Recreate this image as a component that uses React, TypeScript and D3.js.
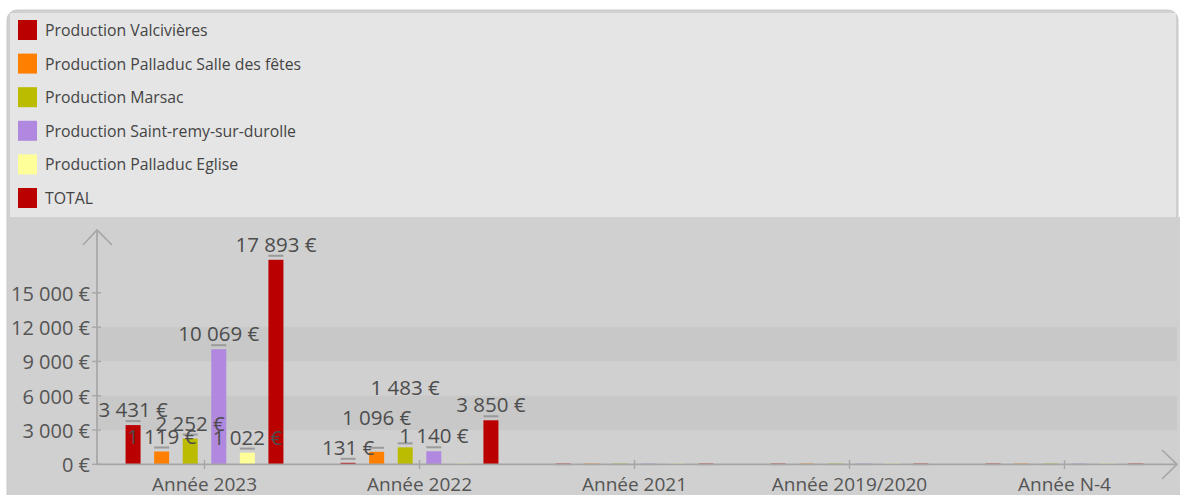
import React from "react";
import * as d3 from "d3";

const categories = ["Année 2023", "Année 2022", "Année 2021", "Année 2019/2020", "Année N-4"];
const seriesNames = [
  "Production Valcivières",
  "Production Palladuc Salle des fêtes",
  "Production Marsac",
  "Production Saint-remy-sur-durolle",
  "Production Palladuc Eglise",
  "TOTAL",
];
const valcivieres = [3431, 131, 0, 0, 0];
const palladucSalle = [1119, 1096, 0, 0, 0];
const marsac = [2252, 1483, 0, 0, 0];
const saintRemy = [10069, 1140, 0, 0, 0];
const palladucEglise = [1022, 0, 0, 0, 0];
const total = [17893, 3850, 0, 0, 0];
const yTicks = [0, 3000, 6000, 9000, 12000, 15000];
const yMax = 20500;
const palette = ["#bb0000", "#ff8000", "#bbbb00", "#b088e0", "#ffff99", "#bb0000"];

const seriesValues = [valcivieres, palladucSalle, marsac, saintRemy, palladucEglise, total];

const W = 1180;
const H = 495;
const FONT = "'Open Sans', 'DejaVu Sans', sans-serif";
const LABEL_SIZE = 20.5;

const fmt = (v: number) => d3.format(",")(v).replace(/,/g, " ") + " €";

function textWidth(s: string, size: number) {
  let w = 0;
  for (const ch of s) {
    if (ch === " ") w += 0.26;
    else w += 0.572;
  }
  return w * size;
}

export default function App() {
  const x = d3.scaleBand<string>().domain(categories).range([97, 1172]).paddingInner(0).paddingOuter(0);
  const xs = d3
    .scaleBand<number>()
    .domain(d3.range(seriesNames.length))
    .range([0, x.bandwidth()])
    .paddingInner(0.475)
    .paddingOuter(1);
  const y = d3.scaleLinear().domain([0, yMax]).range([464.3, 230]);
  const bw = xs.bandwidth();
  const axisColor = "#a6a6a6";

  // label placement with simple collision avoidance (per category)
  const labels: { cx: number; base: number; text: string; key: string }[] = [];
  categories.forEach((cat, ci) => {
    const items = seriesValues
      .map((vals, si) => ({ si, v: vals[ci] }))
      .filter((d) => d.v > 0)
      .sort((a, b) => a.v - b.v || a.si - b.si);
    const placed: { cx: number; base: number; w: number }[] = [];
    items.forEach(({ si, v }) => {
      const text = fmt(v);
      const w = textWidth(text, 20);
      const cx = (x(cat) as number) + (xs(si) as number) + bw / 2;
      let base = y(v) - 8;
      let moved = true;
      let guard = 0;
      while (moved && guard < 20) {
        moved = false;
        guard++;
        for (const p of placed) {
          if (Math.abs(cx - p.cx) < (w + p.w) / 2 && Math.abs(base - p.base) < 12.3) {
            base = p.base - 30;
            moved = true;
          }
        }
      }
      placed.push({ cx, base, w });
      labels.push({ cx, base, text, key: `${ci}-${si}` });
    });
  });

  const bands = [] as { y0: number; y1: number }[];
  for (let i = 0; i < yTicks.length - 1; i++) {
    if (i % 2 === 1) bands.push({ y0: y(yTicks[i + 1]), y1: y(yTicks[i]) });
  }

  return (
    <svg
      width={W}
      height={H}
      style={{ position: "absolute", left: 0, top: 0, display: "block" }}
      fontFamily={FONT}
    >
      <rect x={0} y={0} width={W} height={H} fill="#ffffff" />
      {/* card */}
      <rect x={7} y={10} width={1171} height={500} rx={10} ry={10} fill="#d0d0d0" stroke="#c9c9c9" strokeWidth={1} />
      <rect x={1170} y={217} width={10} height={H - 217} fill="#d0d0d0" />
      {/* legend box */}
      <rect x={10} y={13} width={1166} height={204} fill="#e5e5e5" />
      {seriesNames.map((name, i) => {
        const ry = 20 + i * 33.6;
        return (
          <g key={name}>
            <rect x={18} y={ry} width={19} height={20} fill={palette[i]} />
            <text x={45} y={ry + 16} fontSize={15.8} fill="#444">
              {name}
            </text>
          </g>
        );
      })}

      {/* bands */}
      {bands.map((b, i) => (
        <rect key={i} x={97} y={b.y0} width={1080} height={b.y1 - b.y0} fill="#c8c8c8" />
      ))}

      {/* bars */}
      {categories.map((cat, ci) =>
        seriesValues.map((vals, si) => {
          const v = vals[ci];
          const bx = (x(cat) as number) + (xs(si) as number);
          if (v <= 0) {
            return (
              <rect key={`${ci}-${si}`} x={bx} y={y(0) - 1} width={bw} height={1.8} fill={palette[si]} opacity={0.6} />
            );
          }
          return (
            <g key={`${ci}-${si}`}>
              <rect x={bx} y={y(v)} width={bw} height={y(0) - y(v)} fill={palette[si]} />
              <rect x={bx} y={y(v) - 5} width={bw} height={2} fill="#9a9a9a" />
            </g>
          );
        })
      )}

      {/* axes */}
      <line x1={97} y1={y(0)} x2={97} y2={230} stroke={axisColor} strokeWidth={1.7} />
      <polyline points={`83,245 97,230 112,245`} fill="none" stroke={axisColor} strokeWidth={1.6} />
      <line x1={97} y1={y(0)} x2={1177} y2={y(0)} stroke={axisColor} strokeWidth={1.7} />
      <polyline points={`1162,450 1177,${y(0)} 1162,479`} fill="none" stroke={axisColor} strokeWidth={1.6} />

      {yTicks.map((t) => (
        <g key={t}>
          <line x1={92} x2={101} y1={y(t)} y2={y(t)} stroke={axisColor} strokeWidth={1.4} />
          <text x={90} y={y(t) + 8} textAnchor="end" fontSize={20} fill="#555">
            {fmt(t)}
          </text>
        </g>
      ))}

      {categories.map((cat) => {
        const cx = (x(cat) as number) + x.bandwidth() / 2;
        return (
          <g key={cat}>
            <line x1={cx} x2={cx} y1={460} y2={469} stroke={axisColor} strokeWidth={1.4} />
            <text x={cx} y={490.5} textAnchor="middle" fontSize={19} fill="#555">
              {cat}
            </text>
          </g>
        );
      })}

      {/* value labels */}
      {labels.map((l) => (
        <text key={l.key} x={l.cx} y={l.base} textAnchor="middle" fontSize={LABEL_SIZE} fill="#4d4d4d">
          {l.text}
        </text>
      ))}
    </svg>
  );
}
